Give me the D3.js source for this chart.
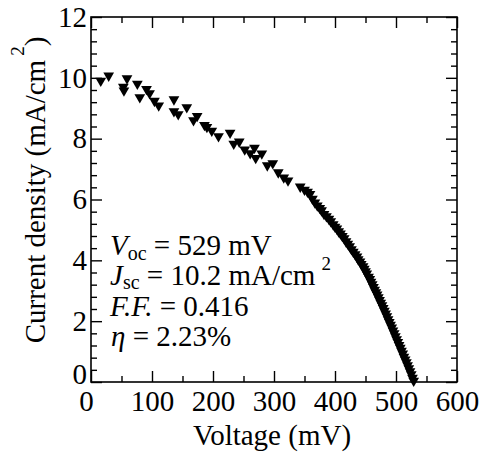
<!DOCTYPE html>
<html>
<head>
<meta charset="utf-8">
<script src="https://cdn.jsdelivr.net/npm/d3@7"></script>
<style>
  body { margin: 0; background: #fff; }
  svg, svg text, svg tspan { font-family: 'Liberation Serif', 'Times New Roman', serif !important; }
</style>
</head>
<body>
<script>
const WIDTH = 485;
const HEIGHT = 457;
const MARGIN = { top: 17, right: 28, bottom: 75, left: 91 };
const FONT = 29;
const SERIF = "'Liberation Serif', 'Times New Roman', serif";

// J-V curve (mV, mA/cm2)
const voltage = [
  16, 29, 53, 54, 59, 76, 80, 91, 96, 104, 111, 136, 136, 143, 157, 168, 174,
  186, 190, 198, 209, 228, 234, 243, 252, 261, 268, 270, 280, 289, 298, 307,
  316, 323, 343, 350, 355, 359, 363, 367, 371, 375, 378, 382, 386, 390, 393,
  397, 400, 403, 406, 409, 412, 415, 418, 421, 424, 427, 430, 433, 436, 438,
  441, 443, 446, 448, 450, 452, 455, 457, 459, 461, 463, 465, 467, 469, 471,
  473, 475, 477, 479, 481, 483, 485, 487, 489, 491, 493, 495, 497, 499, 501,
  503, 505, 507, 509, 511, 513, 515, 517, 519, 521, 523, 525, 527, 529
];
const current = [
  9.90, 10.07, 9.70, 9.58, 9.98, 9.80, 9.36, 9.63, 9.49, 9.24, 9.09, 9.29, 8.90,
  8.80, 9.03, 8.60, 8.74, 8.45, 8.38, 8.26, 8.08, 8.19, 7.83, 7.90, 7.64, 7.52,
  7.70, 7.36, 7.51, 7.12, 7.19, 6.89, 6.72, 6.62, 6.42, 6.32, 6.25, 6.18, 6.02,
  5.90, 5.80, 5.72, 5.64, 5.52, 5.45, 5.36, 5.28, 5.18, 5.10, 5.04, 4.95, 4.88,
  4.80, 4.72, 4.62, 4.54, 4.46, 4.36, 4.28, 4.20, 4.12, 4.03, 3.96, 3.88, 3.80,
  3.72, 3.64, 3.56, 3.46, 3.38, 3.29, 3.21, 3.12, 3.03, 2.95, 2.87, 2.78, 2.69,
  2.60, 2.52, 2.43, 2.34, 2.25, 2.16, 2.06, 1.97, 1.88, 1.79, 1.69, 1.60, 1.50,
  1.40, 1.31, 1.21, 1.12, 1.02, 0.93, 0.83, 0.74, 0.65, 0.55, 0.45, 0.35, 0.25,
  0.14, 0.04
];

const xTicks = [0, 100, 200, 300, 400, 500, 600];
const xMinor = [50, 150, 250, 350, 450, 550];
const yTicks = [0, 2, 4, 6, 8, 10, 12];
const yMinor = [0.4, 0.8, 1.2, 1.6, 2.4, 2.8, 3.2, 3.6, 4.4, 4.8, 5.2, 5.6,
  6.4, 6.8, 7.2, 7.6, 8.4, 8.8, 9.2, 9.6, 10.4, 10.8, 11.2, 11.6];

const w = WIDTH - MARGIN.left - MARGIN.right;
const h = HEIGHT - MARGIN.top - MARGIN.bottom;

const svg = d3.select("body").append("svg")
  .attr("width", WIDTH)
  .attr("height", HEIGHT)
  .style("font-family", SERIF);

const g = svg.append("g").attr("transform", `translate(${MARGIN.left},${MARGIN.top})`);

const x = d3.scaleLinear().domain([0, 600]).range([0, w]);
const y = d3.scaleLinear().domain([0, 12]).range([h, 0]);

const styleAxis = (sel) => {
  sel.attr("font-family", null);
  sel.select(".domain").remove();
  sel.selectAll("line").attr("stroke", "#000").attr("stroke-width", 1.4);
  sel.selectAll("text")
    .style("font-family", SERIF)
    .style("font-size", `${FONT}px`)
    .attr("fill", "#000");
};

// major ticks with labels
g.append("g").attr("transform", `translate(0,${h})`)
  .call(d3.axisBottom(x).tickValues(xTicks).tickSize(-11).tickSizeOuter(0).tickPadding(8))
  .call(styleAxis)
  .call((s) => s.selectAll("text").filter((d) => d === 0).attr("dx", -5));

g.append("g")
  .call(d3.axisLeft(y).tickValues(yTicks).tickSize(-11).tickSizeOuter(0).tickPadding(4))
  .call(styleAxis)
  .call((s) => s.selectAll("text").filter((d) => d === 0).attr("dy", "0.06em"));

// mirrored ticks on top and right
g.append("g")
  .call(d3.axisTop(x).tickValues(xTicks).tickSize(-11).tickSizeOuter(0).tickFormat(""))
  .call(styleAxis);
g.append("g").attr("transform", `translate(${w},0)`)
  .call(d3.axisRight(y).tickValues(yTicks).tickSize(-11).tickSizeOuter(0).tickFormat(""))
  .call(styleAxis);

// minor ticks
g.append("g").attr("transform", `translate(0,${h})`)
  .call(d3.axisBottom(x).tickValues(xMinor).tickSize(-6).tickSizeOuter(0).tickFormat(""))
  .call(styleAxis);
g.append("g")
  .call(d3.axisTop(x).tickValues(xMinor).tickSize(-6).tickSizeOuter(0).tickFormat(""))
  .call(styleAxis);
g.append("g")
  .call(d3.axisLeft(y).tickValues(yMinor).tickSize(-6).tickSizeOuter(0).tickFormat(""))
  .call(styleAxis);
g.append("g").attr("transform", `translate(${w},0)`)
  .call(d3.axisRight(y).tickValues(yMinor).tickSize(-6).tickSizeOuter(0).tickFormat(""))
  .call(styleAxis);

g.append("rect")
  .attr("width", w)
  .attr("height", h)
  .attr("fill", "none")
  .attr("stroke", "#000")
  .attr("stroke-width", 1.6);

// data points: filled down triangles
const points = voltage.map((v, i) => ({ v, j: current[i] }));
const tri = d3.symbol().type(d3.symbolTriangle).size(50);

g.append("g").selectAll("path")
  .data(points)
  .join("path")
  .attr("d", tri)
  .attr("fill", "#000")
  .attr("transform", (d) => `translate(${x(d.v)},${y(d.j)}) rotate(180)`);

const label = (sel) => sel.style("font-family", SERIF).style("font-size", `${FONT}px`);

// axis titles
svg.append("text")
  .call(label)
  .attr("x", 272)
  .attr("y", 445)
  .attr("text-anchor", "middle")
  .text("Voltage (mV)");

const yLabel = svg.append("text")
  .call(label)
  .attr("transform", "translate(45,190) rotate(-90)")
  .attr("text-anchor", "middle");
yLabel.append("tspan").text("Current density (mA/cm");
yLabel.append("tspan").style("font-size", "19px").attr("dx", 4).attr("dy", -21).text("2");
yLabel.append("tspan").attr("dy", 21).text(")");

// cell parameters
const voc = svg.append("text").call(label).attr("x", 110).attr("y", 255);
voc.append("tspan").style("font-style", "italic").text("V");
voc.append("tspan").style("font-size", "20px").attr("dy", 5).text("oc");
voc.append("tspan").attr("dy", -5).text(" = 529 mV");

const jsc = svg.append("text").call(label).attr("x", 110).attr("y", 285);
jsc.append("tspan").style("font-style", "italic").text("J");
jsc.append("tspan").style("font-size", "20px").attr("dy", 4).text("sc");
jsc.append("tspan").attr("dy", -4).text(" = 10.2 mA/cm");
jsc.append("tspan").style("font-size", "19px").attr("dx", 6).attr("dy", -15).text("2");

const ff = svg.append("text").call(label).attr("x", 110).attr("y", 316);
ff.append("tspan").style("font-style", "italic").text("F.F.");
ff.append("tspan").text(" = 0.416");

const eta = svg.append("text").call(label).attr("x", 111).attr("y", 346);
eta.append("tspan").style("font-style", "italic").text("η");
eta.append("tspan").text(" = 2.23%");
</script>
</body>
</html>
